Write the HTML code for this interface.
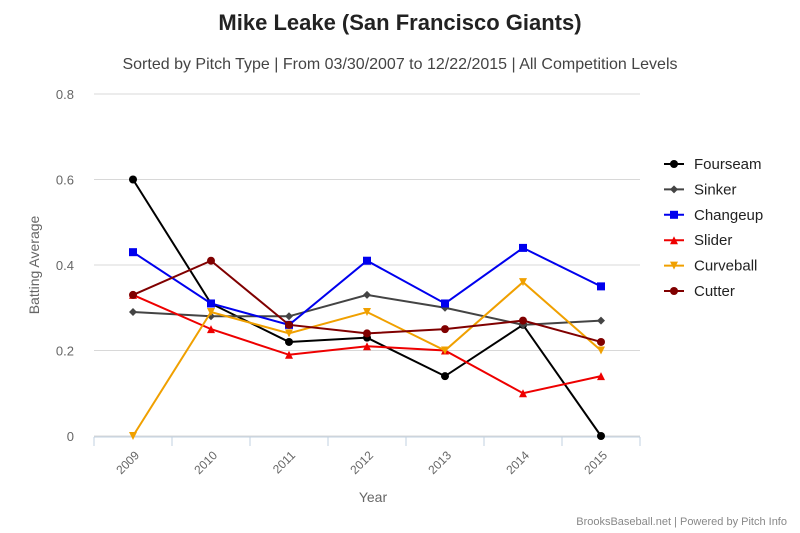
<!DOCTYPE html>
<html><head><meta charset="utf-8"><style>
body{margin:0;background:#fff;}
svg{display:block;font-family:"Liberation Sans",sans-serif;}
</style></head><body>
<svg id="chart" width="800" height="533">
<text x="400" y="30" text-anchor="middle" font-size="22" font-weight="bold" fill="#222">Mike Leake (San Francisco Giants)</text>
<text x="400" y="69" text-anchor="middle" font-size="16" fill="#444">Sorted by Pitch Type | From 03/30/2007 to 12/22/2015 | All Competition Levels</text>
<text transform="translate(39,265) rotate(-90)" text-anchor="middle" font-size="14" fill="#666">Batting Average</text>
<text x="373" y="502" text-anchor="middle" font-size="14" fill="#666">Year</text>
<text x="787" y="525" text-anchor="end" font-size="11" fill="#888">BrooksBaseball.net | Powered by Pitch Info</text>
<g id="grid"></g><g id="series"></g><g id="legend"></g>
</svg>
<script>
const years=["2009","2010","2011","2012","2013","2014","2015"];
const yTicks=[0,0.2,0.4,0.6,0.8];
const yTickLabels=["0","0.2","0.4","0.6","0.8"];
const seriesNames=["Fourseam","Sinker","Changeup","Slider","Curveball","Cutter"];
const fourseam=[0.60,0.31,0.22,0.23,0.14,0.26,0.00];
const sinker=[0.29,0.28,0.28,0.33,0.30,0.26,0.27];
const changeup=[0.43,0.31,0.26,0.41,0.31,0.44,0.35];
const slider=[0.33,0.25,0.19,0.21,0.20,0.10,0.14];
const curveball=[0.00,0.29,0.24,0.29,0.20,0.36,0.20];
const cutter=[0.33,0.41,0.26,0.24,0.25,0.27,0.22];
const NS="http://www.w3.org/2000/svg";
const L=94,R=640,T=94,B=436;
const band=(R-L)/years.length;
const xs=i=>L+band*(i+0.5);
const ys=v=>B-(v/0.8)*(B-T);
function mk(tag,attrs,parent){const e=document.createElementNS(NS,tag);for(const k in attrs)e.setAttribute(k,attrs[k]);parent.appendChild(e);return e;}
const grid=document.getElementById('grid');
yTicks.forEach((t,i)=>{
  const l=mk('line',{x1:L,x2:R,y1:ys(t),y2:ys(t),stroke:'#d8d8d8','stroke-width':1},grid);
  
  
  const tx=mk('text',{x:74,y:ys(t)+5,'text-anchor':'end','font-size':13,fill:'#666'},grid);
  tx.textContent=yTickLabels[i];
  
  
});
const ax=mk('line',{x1:L,x2:R,y1:B+1,y2:B+1,stroke:'#c0d0e0','stroke-width':1},grid);


for(let i=0;i<=years.length;i++){
  const tk=mk('line',{x1:L+band*i,x2:L+band*i,y1:B+1,y2:B+10,stroke:'#c0d0e0'},grid);
  
  
}
years.forEach((y,i)=>{
  const tx=mk('text',{transform:`translate(${xs(i)+7},${B+20}) rotate(-45)`,'text-anchor':'end','font-size':12,fill:'#666'},grid);
  tx.textContent=y;
  
  
});
const colors=["#000000","#444444","#0000ee","#ee0000","#f0a000","#800000"];
const markers=["circle","diamond","square","triangle","triangle-down","circle"];
const data=[fourseam,sinker,changeup,slider,curveball,cutter];
function marker(type,x,y,c,parent){
  let e;
  if(type==='circle')e=mk('circle',{cx:x,cy:y,r:4,fill:c},parent);
  else if(type==='square')e=mk('rect',{x:x-4,y:y-4,width:8,height:8,fill:c},parent);
  else if(type==='diamond')e=mk('path',{d:`M${x},${y-4}L${x+4},${y}L${x},${y+4}L${x-4},${y}Z`,fill:c},parent);
  else if(type==='triangle')e=mk('path',{d:`M${x},${y-4}L${x+4},${y+4}L${x-4},${y+4}Z`,fill:c},parent);
  else e=mk('path',{d:`M${x-4},${y-4}L${x+4},${y-4}L${x},${y+4}Z`,fill:c},parent);
  return e;
}
const sg=document.getElementById('series');
const lg=document.getElementById('legend');
data.forEach((arr,s)=>{
  const g=mk('g',{},sg);
  
  
  const p=mk('path',{d:arr.map((v,i)=>(i?'L':'M')+xs(i)+','+ys(v)).join(''),fill:'none',stroke:colors[s],'stroke-width':2},g);
  
  
  arr.forEach((v,i)=>{
    const m=marker(markers[s],xs(i),ys(v),colors[s],g);
    
    
  });
  const ly=164+s*25.4;
  const le=mk('g',{},lg);
  
  
  mk('line',{x1:664,x2:684,y1:ly,y2:ly,stroke:colors[s],'stroke-width':2},le);
  marker(markers[s],674,ly,colors[s],le);
  const t=mk('text',{x:694,y:ly+5,'font-size':15,fill:'#222'},le);
  t.textContent=seriesNames[s];
});
</script>
</body></html>
